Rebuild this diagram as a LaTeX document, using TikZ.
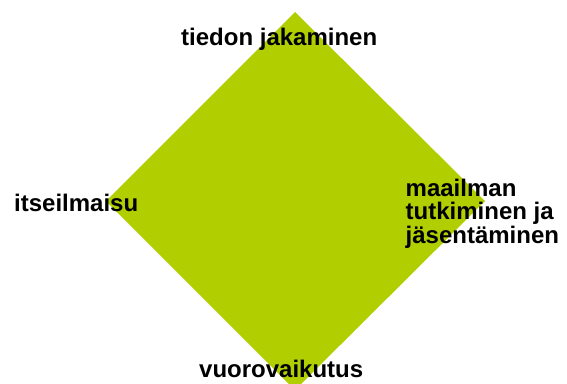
\documentclass[tikz,border=0pt]{standalone}
\usepackage{fontspec}
\setmainfont{Liberation Sans}
\usetikzlibrary{positioning}
\definecolor{leafgreen}{RGB}{176,206,0}

\begin{document}
\begin{tikzpicture}[
  x=1pt, y=-1pt,
  % Corner labels
  corner/.style={inner sep=0pt, anchor=base west, align=left, font=\fontsize{24}{23.5}\selectfont\bfseries, text=black},
  % Diamond
  area/.style={fill=leafgreen, draw=none}
]

% === Frame ===
\useasboundingbox (0,0) rectangle (567,383);

% === Diamond ===
\coordinate (top) at (295,12);
\coordinate (right) at (485,201);
\coordinate (bottom) at (295,390);
\coordinate (left) at (106,201);
\begin{scope}
  \clip (0,0) rectangle (567,383);
  \fill[area] (top) -- (right) -- (bottom) -- (left) -- cycle;
\end{scope}

% === Labels ===
\node[corner] (share) at (181,45) {tiedon jakaminen};
\node[corner] (express) at (14,211) {itseilmaisu};
\node[corner] (explore) at (405.5,243) {maailman\\tutkiminen ja\\jäsentäminen};
\node[corner] (interact) at (199,377) {vuorovaikutus};

\end{tikzpicture}
\end{document}
